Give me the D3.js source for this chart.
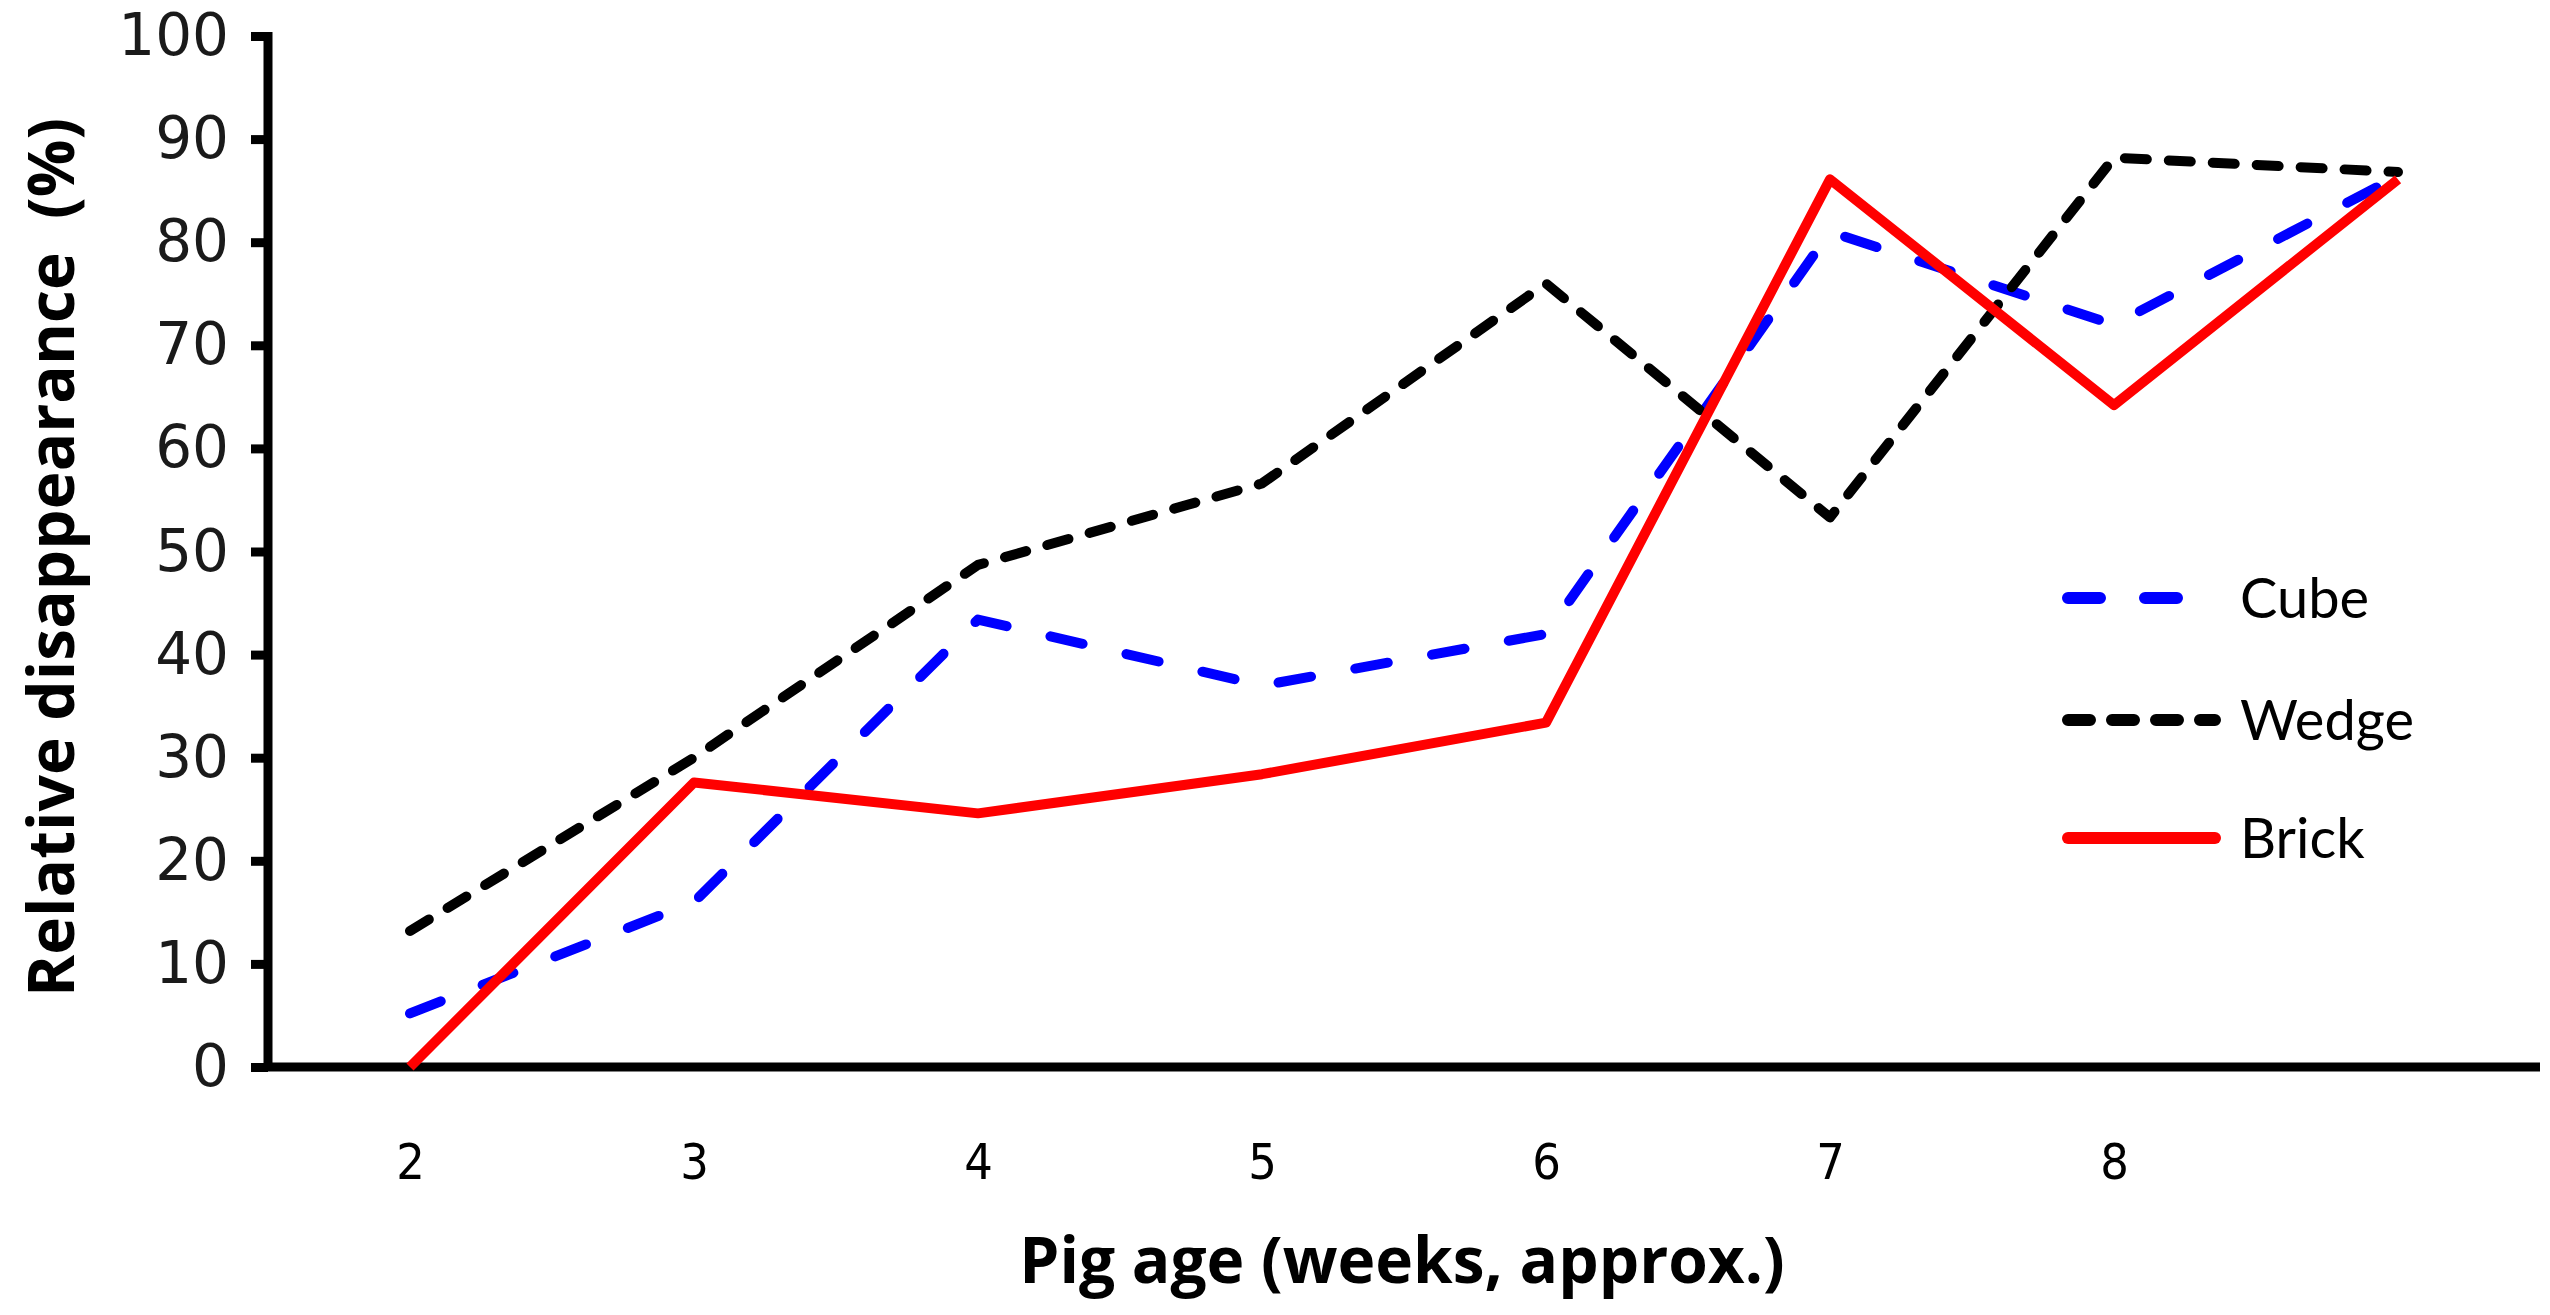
<!DOCTYPE html>
<html>
<head>
    <meta charset="utf-8"/>
    <title>Relative disappearance by pig age</title>
    <style>
        body {
            margin: 0;
            background-color: #fff;
        }
        svg {
            display: block;
        }
        .axis path, .axis line {
            stroke: #000;
            stroke-width: 9px;
        }
        .y-axis text {
            font-family: 'DejaVu Sans', Verdana, sans-serif;
            font-size: 58px;
            fill: #1a1a1a;
        }
        .x-axis text {
            font-family: 'Liberation Sans Narrow', 'DejaVu Sans Condensed', sans-serif;
            font-size: 50px;
            fill: #000;
        }
        .title {
            font-family: 'Open Sans', Lato, sans-serif;
            font-weight: bold;
            font-size: 64px;
            fill: #000;
        }
        .legend text {
            font-family: Lato, 'Open Sans', sans-serif;
            font-size: 56px;
            fill: #000;
        }
        .series {
            fill: none;
            stroke-width: 10px;
            stroke-linejoin: round;
        }
    </style>
    <script src="https://cdnjs.cloudflare.com/ajax/libs/d3/7.8.5/d3.min.js"></script>
</head>
<body>
<svg id="chart" width="2550" height="1315"></svg>
<script>

// pig age categories, last one has no label on the axis
const weeks = ['2', '3', '4', '5', '6', '7', '8', ''];

const cube  = [5.2, 16, 43.4, 37, 42, 81, 72, 86.4];
const wedge = [13.2, 30, 48.7, 56.6, 76, 53.3, 88.2, 86.8];
const brick = [0, 27.6, 24.6, 28.4, 33.4, 86.1, 64.2, 86.1];

const yTicks = [0, 10, 20, 30, 40, 50, 60, 70, 80, 90, 100];

const seriesNames = ['Cube', 'Wedge', 'Brick'];

const svg = d3.select('#chart');

const plotLeft = 268, plotRight = 2540, plotTop = 36, plotBottom = 1067;

const x = d3.scalePoint()
    .domain(d3.range(weeks.length))
    .range([plotLeft, plotRight])
    .padding(0.5);

const y = d3.scaleLinear()
    .domain([0, 100])
    .range([plotBottom, plotTop]);

// x axis - no tick marks, labels only
svg.append('g')
    .attr('class', 'axis x-axis')
    .attr('transform', `translate(0,${plotBottom})`)
    .call(d3.axisBottom(x)
        .tickSize(0)
        .tickSizeOuter(0)
        .tickPadding(76)
        .tickFormat(i => weeks[i]));

svg.append('g')
    .attr('class', 'axis y-axis')
    .attr('transform', `translate(${plotLeft},0)`)
    .call(d3.axisLeft(y)
        .tickValues(yTicks)
        .tickSize(17)
        .tickSizeOuter(0)
        .tickPadding(22));

svg.selectAll('.axis text').attr('stroke', 'none');
svg.select('.x-axis .domain').attr('d', `M${plotLeft - 4},0H${plotRight}`);
svg.select('.y-axis .domain').attr('d', `M0,${plotTop - 4}V${plotBottom + 4}`);

const line = d3.line()
    .x((d, i) => x(i))
    .y(d => y(d));

const styles = {
    Cube:  { data: cube,  color: '#0000ff', dash: '33,45' },
    Wedge: { data: wedge, color: '#000000', dash: '22,22' },
    Brick: { data: brick, color: '#ff0000', dash: null }
};

// draw order: cube, wedge, brick on top
seriesNames.forEach(name => {
    const s = styles[name];
    svg.append('path')
        .datum(s.data)
        .attr('class', 'series')
        .attr('stroke', s.color)
        .attr('stroke-linecap', s.dash ? 'round' : 'butt')
        .attr('stroke-dasharray', s.dash)
        .attr('d', line);
});

// legend
const legend = svg.append('g').attr('class', 'legend');
const legendY = [598, 720, 838];

seriesNames.forEach((name, i) => {
    const s = styles[name];
    legend.append('line')
        .attr('x1', 2068).attr('x2', 2215)
        .attr('y1', legendY[i]).attr('y2', legendY[i])
        .attr('stroke', s.color)
        .attr('stroke-width', 12)
        .attr('stroke-linecap', 'round')
        .attr('stroke-dasharray', name === 'Cube' ? '32,45' : (name === 'Wedge' ? '22,22' : null));
    legend.append('text')
        .attr('x', 2240)
        .attr('y', legendY[i])
        .attr('dy', '0.35em')
        .text(name);
});

// axis titles
svg.append('text')
    .attr('class', 'title')
    .attr('x', 1402)
    .attr('y', 1283)
    .attr('text-anchor', 'middle')
    .text('Pig age (weeks, approx.)');

svg.append('text')
    .attr('class', 'title')
    .attr('transform', `translate(74,${(plotTop + plotBottom) / 2 + 6}) rotate(-90)`)
    .attr('text-anchor', 'middle')
    .attr('xml:space', 'preserve')
    .text('Relative disappearance  (%)');

</script>
</body>
</html>
